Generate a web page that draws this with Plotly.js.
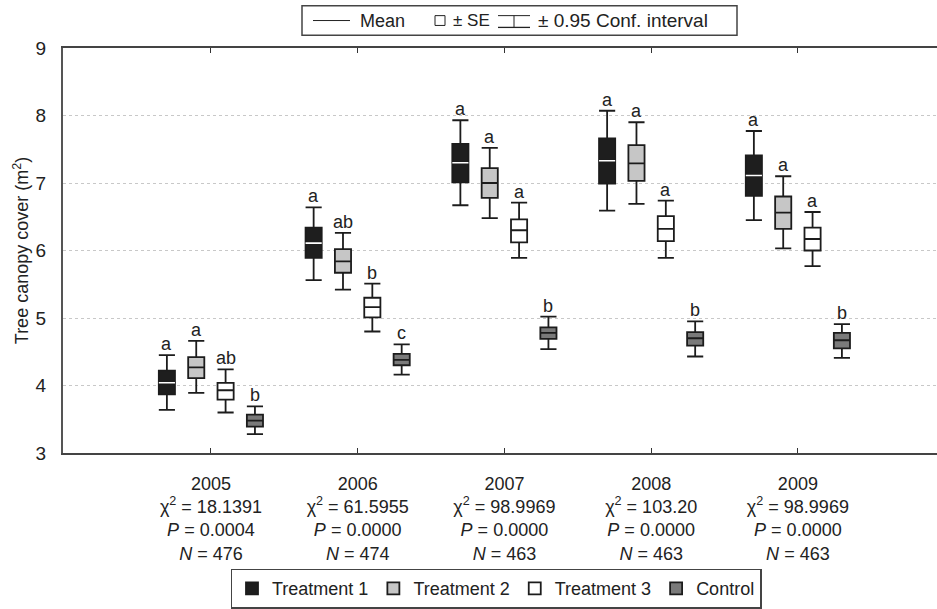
<!DOCTYPE html>
<html><head><meta charset="utf-8">
<script src="https://cdn.plot.ly/plotly-3.0.1.min.js"></script>
<style>html,body{margin:0;padding:0;background:#fff}#chart{width:937px;height:609px}</style>
</head><body><div id="chart"></div>
<script>
// ---- data ----
const years = ['2005', '2006', '2007', '2008', '2009'];
const chi2 = ['18.1391', '61.5955', '98.9969', '103.20', '98.9969'];
const pVals = ['0.0004', '0.0000', '0.0000', '0.0000', '0.0000'];
const nVals = ['476', '474', '463', '463', '463'];
const seriesNames = ['Treatment 1', 'Treatment 2', 'Treatment 3', 'Control'];

// Treatment 1
const t1Mean = [4.04, 6.11, 7.30, 7.33, 7.11];
const t1SeLo = [3.87, 5.89, 7.01, 6.99, 6.81];
const t1SeHi = [4.22, 6.34, 7.58, 7.66, 7.41];
const t1CiLo = [3.64, 5.56, 6.67, 6.59, 6.45];
const t1CiHi = [4.45, 6.64, 7.93, 8.07, 7.77];
const t1Letters = ['a', 'a', 'a', 'a', 'a'];
// Treatment 2
const t2Mean = [4.27, 5.84, 7.00, 7.29, 6.56];
const t2SeLo = [4.11, 5.67, 6.78, 7.03, 6.32];
const t2SeHi = [4.42, 6.02, 7.22, 7.56, 6.80];
const t2CiLo = [3.89, 5.42, 6.48, 6.69, 6.03];
const t2CiHi = [4.66, 6.26, 7.52, 7.90, 7.10];
const t2Letters = ['a', 'ab', 'a', 'a', 'a'];
// Treatment 3
const t3Mean = [3.93, 5.16, 6.30, 6.32, 6.17];
const t3SeLo = [3.79, 5.01, 6.12, 6.14, 6.00];
const t3SeHi = [4.04, 5.30, 6.46, 6.51, 6.34];
const t3CiLo = [3.60, 4.80, 5.89, 5.89, 5.77];
const t3CiHi = [4.24, 5.51, 6.71, 6.74, 6.57];
const t3Letters = ['ab', 'b', 'a', 'a', 'a'];
// Control
const ctMean = [3.48, 4.38, 4.78, 4.70, 4.67];
const ctSeLo = [3.39, 4.30, 4.69, 4.59, 4.55];
const ctSeHi = [3.57, 4.47, 4.86, 4.79, 4.78];
const ctCiLo = [3.28, 4.16, 4.54, 4.43, 4.41];
const ctCiHi = [3.69, 4.61, 5.02, 4.95, 4.91];
const ctLetters = ['b', 'c', 'b', 'b', 'b'];

const yTicks = [3, 4, 5, 6, 7, 8, 9];

// ---- styling ----
const FONT = 'Liberation Sans, Arial, sans-serif';
const TXT = '#222';
const fills = ['#1e1e1e', '#c6c6c6', '#ffffff', '#7a7a7a'];
const BOXGAP = 0.2;

const series = [
  {mean: t1Mean, lo: t1SeLo, hi: t1SeHi, cl: t1CiLo, ch: t1CiHi, let: t1Letters},
  {mean: t2Mean, lo: t2SeLo, hi: t2SeHi, cl: t2CiLo, ch: t2CiHi, let: t2Letters},
  {mean: t3Mean, lo: t3SeLo, hi: t3SeHi, cl: t3CiLo, ch: t3CiHi, let: t3Letters},
  {mean: ctMean, lo: ctSeLo, hi: ctSeHi, cl: ctCiLo, ch: ctCiHi, let: ctLetters}
];

const traces = series.map((s, k) => ({
  type: 'box', name: seriesNames[k], x: years,
  q1: s.lo, median: s.mean, q3: s.hi, lowerfence: s.cl, upperfence: s.ch,
  fillcolor: fills[k], line: {color: '#1c1c1c', width: 1.8},
  whiskerwidth: 1, offsetgroup: 'g' + k, boxpoints: false, hoverinfo: 'skip'
}));
// white mean line on the black Treatment 1 boxes
traces.push({
  type: 'box', name: 'T1 mean', x: years, showlegend: false,
  q1: t1Mean, median: t1Mean, q3: t1Mean, lowerfence: t1Mean, upperfence: t1Mean,
  fillcolor: 'rgba(0,0,0,0)', line: {color: '#ffffff', width: 1.6},
  whiskerwidth: 0, offsetgroup: 'g0', boxpoints: false, hoverinfo: 'skip'
});

// significance letters above each upper CI cap
const annotations = [];
series.forEach((s, k) => {
  const off = ((k + 0.5) / series.length - 0.5) * (1 - BOXGAP);
  years.forEach((yr, i) => {
    annotations.push({
      x: i + off, y: s.ch[i], xref: 'x', yref: 'y', text: s.let[i], showarrow: false,
      yanchor: 'bottom', xanchor: 'center', yshift: -1,
      font: {family: FONT, size: 18, color: TXT}
    });
  });
});

// top explanatory legend (pixel -> paper helpers)
const L = 63, W = 874, B = 461, H = 413;
const px = v => (v - L) / W;
const py = v => (B - v) / H;
const shapes = [
  {type: 'rect', xref: 'paper', yref: 'paper', x0: px(302), x1: px(737), y0: py(35), y1: py(5), line: {color: '#444', width: 1.5}},
  {type: 'line', xref: 'paper', yref: 'paper', x0: px(313), x1: px(350), y0: py(20), y1: py(20), line: {color: '#222', width: 1}},
  {type: 'rect', xref: 'paper', yref: 'paper', x0: px(435), x1: px(445), y0: py(25), y1: py(15), line: {color: '#222', width: 1}},
  {type: 'line', xref: 'paper', yref: 'paper', x0: px(498), x1: px(530), y0: py(15), y1: py(15), line: {color: '#222', width: 1}},
  {type: 'line', xref: 'paper', yref: 'paper', x0: px(498), x1: px(530), y0: py(27), y1: py(27), line: {color: '#222', width: 1.3}},
  {type: 'line', xref: 'paper', yref: 'paper', x0: px(514), x1: px(514), y0: py(15), y1: py(27), line: {color: '#222', width: 1}}
];
const topTexts = [['Mean', 358, 18], ['± SE', 451, 17], ['± 0.95 Conf. interval', 536, 19]];
topTexts.forEach(([t, x, sz]) => annotations.push({
  xref: 'paper', yref: 'paper', x: px(x), y: py(20), text: t, showarrow: false,
  xanchor: 'left', yanchor: 'middle', font: {family: FONT, size: sz, color: TXT}
}));

const tickText = years.map((y, i) =>
  y + '<br>χ<sup>2</sup> = ' + chi2[i] + '<br><i>P</i> = ' + pVals[i] + '<br><i>N</i> = ' + nVals[i]);

const layout = {
  width: 937, height: 609,
  margin: {l: L, r: 0, t: 48, b: 148, pad: 0},
  paper_bgcolor: '#fff', plot_bgcolor: '#fff',
  font: {family: FONT, size: 18, color: TXT},
  boxmode: 'group', boxgap: BOXGAP, boxgroupgap: 0.45,
  xaxis: {
    type: 'category', categoryorder: 'array', categoryarray: years,
    range: [-1.008, 4.948], tickvals: years, ticktext: tickText,
    ticks: 'inside', ticklen: 5, tickwidth: 1, tickcolor: '#333',
    showline: true, linecolor: '#444', linewidth: 2, mirror: 'ticks',
    showgrid: false, zeroline: false, ticklabelstandoff: 13,
    tickfont: {family: FONT, size: 18, color: TXT}
  },
  yaxis: {
    range: [3, 9], tickvals: yTicks, ticks: '', showline: true, linecolor: '#555', linewidth: 2,
    showgrid: true, gridcolor: '#c8c8c8', griddash: 'dot', gridwidth: 1, zeroline: false,
    ticklabelstandoff: 11,
    tickfont: {family: FONT, size: 19, color: TXT},
    title: {text: 'Tree canopy cover (m<sup>2</sup>)', font: {family: FONT, size: 18, color: TXT}, standoff: 2}
  },
  showlegend: true,
  legend: {
    orientation: 'h', x: px(496), xanchor: 'center', y: py(579), yanchor: 'top',
    bordercolor: '#444', borderwidth: 1.5, bgcolor: '#fff',
    font: {family: FONT, size: 18, color: TXT}, itemwidth: 30, tracegroupgap: 0
  },
  shapes: shapes,
  annotations: annotations
};

Plotly.newPlot('chart', traces, layout, {displayModeBar: false, staticPlot: true});
</script></body></html>
